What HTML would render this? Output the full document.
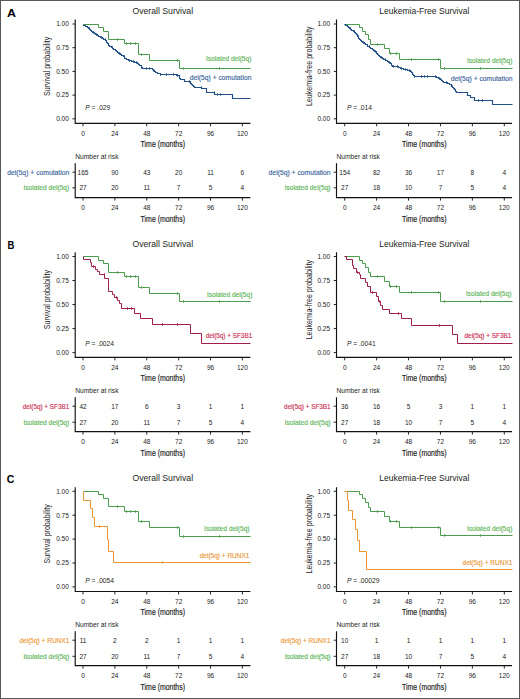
<!DOCTYPE html>
<html><head><meta charset="utf-8"><title>Kaplan-Meier survival by del(5q) comutation</title>
<style>html,body{margin:0;padding:0;background:#fff;}svg{display:block;}</style></head>
<body>
<svg width="520" height="699" viewBox="0 0 520 699" font-family='"Liberation Sans", sans-serif'>
<rect x="0" y="0" width="520" height="699" fill="#fff"/>
<text x="6.90" y="16.90" font-size="11.4" fill="#000" textLength="9.0" lengthAdjust="spacingAndGlyphs" font-weight="bold">A</text>
<text x="7.60" y="248.80" font-size="11.4" fill="#000" textLength="6.9" lengthAdjust="spacingAndGlyphs" font-weight="bold">B</text>
<text x="6.80" y="483.00" font-size="11.4" fill="#000" textLength="7.6" lengthAdjust="spacingAndGlyphs" font-weight="bold">C</text>
<text x="162.80" y="14.20" font-size="9.3" fill="#231f20" text-anchor="middle" textLength="60.6" lengthAdjust="spacingAndGlyphs">Overall Survival</text>
<text transform="translate(50.20,66.30) rotate(-90)" font-size="9.2" fill="#222" text-anchor="middle" textLength="59.3" lengthAdjust="spacingAndGlyphs">Survival probability</text>
<line x1="72.40" y1="118.80" x2="75.20" y2="118.80" stroke="#111" stroke-width="0.9"/>
<text x="68.80" y="121.15" font-size="6.5" fill="#222" text-anchor="end">0.00</text>
<line x1="72.40" y1="95.10" x2="75.20" y2="95.10" stroke="#111" stroke-width="0.9"/>
<text x="68.80" y="97.45" font-size="6.5" fill="#222" text-anchor="end">0.25</text>
<line x1="72.40" y1="71.40" x2="75.20" y2="71.40" stroke="#111" stroke-width="0.9"/>
<text x="68.80" y="73.75" font-size="6.5" fill="#222" text-anchor="end">0.50</text>
<line x1="72.40" y1="47.70" x2="75.20" y2="47.70" stroke="#111" stroke-width="0.9"/>
<text x="68.80" y="50.05" font-size="6.5" fill="#222" text-anchor="end">0.75</text>
<line x1="72.40" y1="24.00" x2="75.20" y2="24.00" stroke="#111" stroke-width="0.9"/>
<text x="68.80" y="26.35" font-size="6.5" fill="#222" text-anchor="end">1.00</text>
<line x1="83.00" y1="123.30" x2="83.00" y2="126.30" stroke="#111" stroke-width="0.9"/>
<text x="83.00" y="135.60" font-size="6.5" fill="#222" text-anchor="middle">0</text>
<line x1="114.88" y1="123.30" x2="114.88" y2="126.30" stroke="#111" stroke-width="0.9"/>
<text x="114.88" y="135.60" font-size="6.5" fill="#222" text-anchor="middle">24</text>
<line x1="146.76" y1="123.30" x2="146.76" y2="126.30" stroke="#111" stroke-width="0.9"/>
<text x="146.76" y="135.60" font-size="6.5" fill="#222" text-anchor="middle">48</text>
<line x1="178.64" y1="123.30" x2="178.64" y2="126.30" stroke="#111" stroke-width="0.9"/>
<text x="178.64" y="135.60" font-size="6.5" fill="#222" text-anchor="middle">72</text>
<line x1="210.52" y1="123.30" x2="210.52" y2="126.30" stroke="#111" stroke-width="0.9"/>
<text x="210.52" y="135.60" font-size="6.5" fill="#222" text-anchor="middle">96</text>
<line x1="242.40" y1="123.30" x2="242.40" y2="126.30" stroke="#111" stroke-width="0.9"/>
<text x="242.40" y="135.60" font-size="6.5" fill="#222" text-anchor="middle">120</text>
<path d="M75.20 19.60V123.30H250.40" fill="none" stroke="#111" stroke-width="1.15"/>
<text x="162.80" y="147.00" font-size="8.6" fill="#222" text-anchor="middle" textLength="44.4" lengthAdjust="spacingAndGlyphs" stroke="#222" stroke-width="0.18">Time (months)</text>
<text x="85.20" y="109.80" font-size="6.7" fill="#231f20"><tspan font-style="italic">P</tspan> = .029</text>
<text x="424.25" y="14.20" font-size="9.3" fill="#231f20" text-anchor="middle" textLength="90.1" lengthAdjust="spacingAndGlyphs">Leukemia-Free Survival</text>
<text transform="translate(311.60,66.30) rotate(-90)" font-size="9.2" fill="#222" text-anchor="middle" textLength="79.5" lengthAdjust="spacingAndGlyphs">Leukemia-free probability</text>
<line x1="333.70" y1="118.80" x2="336.50" y2="118.80" stroke="#111" stroke-width="0.9"/>
<text x="330.10" y="121.15" font-size="6.5" fill="#222" text-anchor="end">0.00</text>
<line x1="333.70" y1="95.10" x2="336.50" y2="95.10" stroke="#111" stroke-width="0.9"/>
<text x="330.10" y="97.45" font-size="6.5" fill="#222" text-anchor="end">0.25</text>
<line x1="333.70" y1="71.40" x2="336.50" y2="71.40" stroke="#111" stroke-width="0.9"/>
<text x="330.10" y="73.75" font-size="6.5" fill="#222" text-anchor="end">0.50</text>
<line x1="333.70" y1="47.70" x2="336.50" y2="47.70" stroke="#111" stroke-width="0.9"/>
<text x="330.10" y="50.05" font-size="6.5" fill="#222" text-anchor="end">0.75</text>
<line x1="333.70" y1="24.00" x2="336.50" y2="24.00" stroke="#111" stroke-width="0.9"/>
<text x="330.10" y="26.35" font-size="6.5" fill="#222" text-anchor="end">1.00</text>
<line x1="344.70" y1="123.30" x2="344.70" y2="126.30" stroke="#111" stroke-width="0.9"/>
<text x="344.70" y="135.60" font-size="6.5" fill="#222" text-anchor="middle">0</text>
<line x1="376.62" y1="123.30" x2="376.62" y2="126.30" stroke="#111" stroke-width="0.9"/>
<text x="376.62" y="135.60" font-size="6.5" fill="#222" text-anchor="middle">24</text>
<line x1="408.54" y1="123.30" x2="408.54" y2="126.30" stroke="#111" stroke-width="0.9"/>
<text x="408.54" y="135.60" font-size="6.5" fill="#222" text-anchor="middle">48</text>
<line x1="440.46" y1="123.30" x2="440.46" y2="126.30" stroke="#111" stroke-width="0.9"/>
<text x="440.46" y="135.60" font-size="6.5" fill="#222" text-anchor="middle">72</text>
<line x1="472.38" y1="123.30" x2="472.38" y2="126.30" stroke="#111" stroke-width="0.9"/>
<text x="472.38" y="135.60" font-size="6.5" fill="#222" text-anchor="middle">96</text>
<line x1="504.30" y1="123.30" x2="504.30" y2="126.30" stroke="#111" stroke-width="0.9"/>
<text x="504.30" y="135.60" font-size="6.5" fill="#222" text-anchor="middle">120</text>
<path d="M336.50 19.60V123.30H512.00" fill="none" stroke="#111" stroke-width="1.15"/>
<text x="424.25" y="147.00" font-size="8.6" fill="#222" text-anchor="middle" textLength="44.4" lengthAdjust="spacingAndGlyphs" stroke="#222" stroke-width="0.18">Time (months)</text>
<text x="346.90" y="109.80" font-size="6.7" fill="#231f20"><tspan font-style="italic">P</tspan> = .014</text>
<path d="M83.50 24.50L98.50 24.50L98.50 27.50L103.50 27.50L103.50 31.50L108.50 31.50L108.50 39.50L124.50 39.50L124.50 43.50L138.50 43.50L138.50 54.50L149.50 54.50L149.50 60.50L179.50 60.50L179.50 68.50L250.50 68.50" fill="none" stroke="#4c9c4f" stroke-width="1.0" stroke-linejoin="miter" stroke-linecap="butt"/>
<line x1="117.50" y1="38.10" x2="117.50" y2="40.90" stroke="#4c9c4f" stroke-width="0.8"/>
<line x1="126.50" y1="42.10" x2="126.50" y2="44.90" stroke="#4c9c4f" stroke-width="0.8"/>
<line x1="130.50" y1="42.10" x2="130.50" y2="44.90" stroke="#4c9c4f" stroke-width="0.8"/>
<line x1="135.50" y1="42.10" x2="135.50" y2="44.90" stroke="#4c9c4f" stroke-width="0.8"/>
<line x1="141.50" y1="53.10" x2="141.50" y2="55.90" stroke="#4c9c4f" stroke-width="0.8"/>
<line x1="177.50" y1="59.10" x2="177.50" y2="61.90" stroke="#4c9c4f" stroke-width="0.8"/>
<line x1="183.50" y1="67.10" x2="183.50" y2="69.90" stroke="#4c9c4f" stroke-width="0.8"/>
<line x1="219.50" y1="67.10" x2="219.50" y2="69.90" stroke="#4c9c4f" stroke-width="0.8"/>
<path d="M344.50 24.50L359.50 24.50L359.50 27.50L362.50 27.50L362.50 31.50L365.50 31.50L365.50 34.50L368.50 34.50L368.50 39.50L370.50 39.50L370.50 44.50L384.50 44.50L384.50 48.50L389.50 48.50L389.50 53.50L399.50 53.50L399.50 59.50L440.50 59.50L440.50 68.50L512.50 68.50" fill="none" stroke="#4c9c4f" stroke-width="1.0" stroke-linejoin="miter" stroke-linecap="butt"/>
<line x1="377.50" y1="43.10" x2="377.50" y2="45.90" stroke="#4c9c4f" stroke-width="0.8"/>
<line x1="390.50" y1="52.10" x2="390.50" y2="54.90" stroke="#4c9c4f" stroke-width="0.8"/>
<line x1="396.50" y1="52.10" x2="396.50" y2="54.90" stroke="#4c9c4f" stroke-width="0.8"/>
<line x1="411.50" y1="58.10" x2="411.50" y2="60.90" stroke="#4c9c4f" stroke-width="0.8"/>
<line x1="438.50" y1="58.10" x2="438.50" y2="60.90" stroke="#4c9c4f" stroke-width="0.8"/>
<line x1="444.50" y1="67.10" x2="444.50" y2="69.90" stroke="#4c9c4f" stroke-width="0.8"/>
<line x1="480.50" y1="67.10" x2="480.50" y2="69.90" stroke="#4c9c4f" stroke-width="0.8"/>
<path d="M83.50 24.50L83.50 24.50L83.50 25.50L85.50 25.50L85.50 26.50L87.50 26.50L87.50 27.50L88.50 27.50L88.50 28.50L89.50 28.50L89.50 29.50L90.50 29.50L90.50 30.50L91.50 30.50L91.50 31.50L92.50 31.50L92.50 32.50L94.50 32.50L94.50 33.50L95.50 33.50L95.50 34.50L97.50 34.50L97.50 35.50L98.50 35.50L98.50 36.50L100.50 36.50L100.50 37.50L102.50 37.50L102.50 38.50L103.50 38.50L103.50 39.50L105.50 39.50L105.50 40.50L106.50 40.50L106.50 42.50L107.50 42.50L107.50 43.50L108.50 43.50L108.50 44.50L108.50 44.50L108.50 45.50L109.50 45.50L109.50 46.50L111.50 46.50L111.50 47.50L112.50 47.50L112.50 48.50L113.50 48.50L113.50 49.50L115.50 49.50L115.50 50.50L116.50 50.50L116.50 51.50L117.50 51.50L117.50 52.50L118.50 52.50L118.50 53.50L120.50 53.50L120.50 54.50L121.50 54.50L121.50 55.50L123.50 55.50L123.50 56.50L124.50 56.50L124.50 58.50L126.50 58.50L126.50 59.50L128.50 59.50L128.50 60.50L131.50 60.50L131.50 61.50L134.50 61.50L134.50 62.50L137.50 62.50L137.50 63.50L138.50 63.50L138.50 64.50L139.50 64.50L139.50 65.50L141.50 65.50L141.50 67.50L142.50 67.50L142.50 68.50L151.50 68.50L151.50 68.50L152.50 68.50L152.50 69.50L153.50 69.50L153.50 70.50L154.50 70.50L154.50 71.50L155.50 71.50L155.50 72.50L157.50 72.50L157.50 73.50L160.50 73.50L160.50 74.50L173.50 74.50L173.50 74.50L176.50 74.50L176.50 75.50L179.50 75.50L179.50 77.50L179.50 77.50L179.50 78.50L180.50 78.50L180.50 79.50L184.50 79.50L184.50 81.50L189.50 81.50L190.50 81.50L190.50 83.50L191.50 83.50L191.50 84.50L192.50 84.50L192.50 85.50L193.50 85.50L193.50 86.50L194.50 86.50L194.50 87.50L201.50 87.50L201.50 88.50L206.50 88.50L206.50 92.50L214.50 92.50L214.50 94.50L232.50 94.50L232.50 98.50L250.50 98.50" fill="none" stroke="#224f85" stroke-width="1.15" stroke-linejoin="miter" stroke-linecap="butt"/>
<line x1="89.50" y1="27.10" x2="89.50" y2="29.90" stroke="#224f85" stroke-width="0.8"/>
<line x1="93.50" y1="31.10" x2="93.50" y2="33.90" stroke="#224f85" stroke-width="0.8"/>
<line x1="96.50" y1="33.10" x2="96.50" y2="35.90" stroke="#224f85" stroke-width="0.8"/>
<line x1="101.50" y1="36.10" x2="101.50" y2="38.90" stroke="#224f85" stroke-width="0.8"/>
<line x1="105.50" y1="38.10" x2="105.50" y2="40.90" stroke="#224f85" stroke-width="0.8"/>
<line x1="112.50" y1="46.10" x2="112.50" y2="48.90" stroke="#224f85" stroke-width="0.8"/>
<line x1="119.50" y1="52.10" x2="119.50" y2="54.90" stroke="#224f85" stroke-width="0.8"/>
<line x1="124.50" y1="55.10" x2="124.50" y2="57.90" stroke="#224f85" stroke-width="0.8"/>
<line x1="129.50" y1="59.10" x2="129.50" y2="61.90" stroke="#224f85" stroke-width="0.8"/>
<line x1="133.50" y1="60.10" x2="133.50" y2="62.90" stroke="#224f85" stroke-width="0.8"/>
<line x1="136.50" y1="61.10" x2="136.50" y2="63.90" stroke="#224f85" stroke-width="0.8"/>
<line x1="141.50" y1="66.10" x2="141.50" y2="68.90" stroke="#224f85" stroke-width="0.8"/>
<line x1="146.50" y1="67.10" x2="146.50" y2="69.90" stroke="#224f85" stroke-width="0.8"/>
<line x1="149.50" y1="67.10" x2="149.50" y2="69.90" stroke="#224f85" stroke-width="0.8"/>
<line x1="153.50" y1="69.10" x2="153.50" y2="71.90" stroke="#224f85" stroke-width="0.8"/>
<line x1="160.50" y1="73.10" x2="160.50" y2="75.90" stroke="#224f85" stroke-width="0.8"/>
<line x1="166.50" y1="73.10" x2="166.50" y2="75.90" stroke="#224f85" stroke-width="0.8"/>
<line x1="173.50" y1="73.10" x2="173.50" y2="75.90" stroke="#224f85" stroke-width="0.8"/>
<line x1="177.50" y1="74.10" x2="177.50" y2="76.90" stroke="#224f85" stroke-width="0.8"/>
<line x1="189.50" y1="80.10" x2="189.50" y2="82.90" stroke="#224f85" stroke-width="0.8"/>
<line x1="201.50" y1="86.10" x2="201.50" y2="88.90" stroke="#224f85" stroke-width="0.8"/>
<line x1="214.50" y1="91.10" x2="214.50" y2="93.90" stroke="#224f85" stroke-width="0.8"/>
<line x1="217.50" y1="93.10" x2="217.50" y2="95.90" stroke="#224f85" stroke-width="0.8"/>
<line x1="220.50" y1="93.10" x2="220.50" y2="95.90" stroke="#224f85" stroke-width="0.8"/>
<path d="M344.50 24.50L345.50 24.50L345.50 25.50L347.50 25.50L347.50 26.50L348.50 26.50L348.50 27.50L349.50 27.50L349.50 28.50L350.50 28.50L350.50 29.50L351.50 29.50L351.50 30.50L353.50 30.50L353.50 31.50L354.50 31.50L354.50 32.50L355.50 32.50L355.50 33.50L356.50 33.50L356.50 34.50L357.50 34.50L357.50 36.50L358.50 36.50L358.50 37.50L358.50 37.50L358.50 38.50L359.50 38.50L359.50 39.50L360.50 39.50L360.50 40.50L361.50 40.50L361.50 41.50L362.50 41.50L362.50 42.50L364.50 42.50L364.50 43.50L365.50 43.50L365.50 44.50L367.50 44.50L367.50 46.50L369.50 46.50L369.50 47.50L370.50 47.50L370.50 48.50L372.50 48.50L372.50 49.50L373.50 49.50L373.50 50.50L374.50 50.50L374.50 51.50L376.50 51.50L376.50 53.50L377.50 53.50L377.50 54.50L378.50 54.50L378.50 55.50L379.50 55.50L379.50 56.50L380.50 56.50L380.50 57.50L382.50 57.50L382.50 58.50L383.50 58.50L383.50 59.50L385.50 59.50L385.50 60.50L387.50 60.50L387.50 61.50L388.50 61.50L388.50 62.50L390.50 62.50L390.50 63.50L391.50 63.50L391.50 65.50L392.50 65.50L392.50 66.50L398.50 66.50L398.50 67.50L400.50 67.50L400.50 68.50L403.50 68.50L403.50 69.50L407.50 69.50L407.50 70.50L410.50 70.50L410.50 71.50L411.50 71.50L411.50 72.50L412.50 72.50L412.50 74.50L413.50 74.50L413.50 75.50L414.50 75.50L414.50 76.50L434.50 76.50L436.50 76.50L436.50 77.50L438.50 77.50L438.50 78.50L440.50 78.50L440.50 79.50L441.50 79.50L441.50 80.50L442.50 80.50L442.50 81.50L443.50 81.50L443.50 82.50L447.50 82.50L447.50 83.50L449.50 83.50L449.50 84.50L451.50 84.50L451.50 86.50L452.50 86.50L452.50 87.50L453.50 87.50L453.50 88.50L454.50 88.50L454.50 89.50L455.50 89.50L455.50 90.50L455.50 90.50L455.50 91.50L456.50 91.50L456.50 92.50L467.50 92.50L467.50 95.50L470.50 95.50L470.50 97.50L474.50 97.50L474.50 100.50L492.50 100.50L492.50 104.50L512.50 104.50" fill="none" stroke="#224f85" stroke-width="1.15" stroke-linejoin="miter" stroke-linecap="butt"/>
<line x1="350.50" y1="27.10" x2="350.50" y2="29.90" stroke="#224f85" stroke-width="0.8"/>
<line x1="354.50" y1="30.10" x2="354.50" y2="32.90" stroke="#224f85" stroke-width="0.8"/>
<line x1="358.50" y1="35.10" x2="358.50" y2="37.90" stroke="#224f85" stroke-width="0.8"/>
<line x1="363.50" y1="41.10" x2="363.50" y2="43.90" stroke="#224f85" stroke-width="0.8"/>
<line x1="369.50" y1="45.10" x2="369.50" y2="47.90" stroke="#224f85" stroke-width="0.8"/>
<line x1="375.50" y1="50.10" x2="375.50" y2="52.90" stroke="#224f85" stroke-width="0.8"/>
<line x1="381.50" y1="56.10" x2="381.50" y2="58.90" stroke="#224f85" stroke-width="0.8"/>
<line x1="385.50" y1="58.10" x2="385.50" y2="60.90" stroke="#224f85" stroke-width="0.8"/>
<line x1="389.50" y1="61.10" x2="389.50" y2="63.90" stroke="#224f85" stroke-width="0.8"/>
<line x1="393.50" y1="65.10" x2="393.50" y2="67.90" stroke="#224f85" stroke-width="0.8"/>
<line x1="397.50" y1="65.10" x2="397.50" y2="67.90" stroke="#224f85" stroke-width="0.8"/>
<line x1="401.50" y1="67.10" x2="401.50" y2="69.90" stroke="#224f85" stroke-width="0.8"/>
<line x1="405.50" y1="68.10" x2="405.50" y2="70.90" stroke="#224f85" stroke-width="0.8"/>
<line x1="409.50" y1="69.10" x2="409.50" y2="71.90" stroke="#224f85" stroke-width="0.8"/>
<line x1="414.50" y1="75.10" x2="414.50" y2="77.90" stroke="#224f85" stroke-width="0.8"/>
<line x1="421.50" y1="75.10" x2="421.50" y2="77.90" stroke="#224f85" stroke-width="0.8"/>
<line x1="424.50" y1="75.10" x2="424.50" y2="77.90" stroke="#224f85" stroke-width="0.8"/>
<line x1="427.50" y1="75.10" x2="427.50" y2="77.90" stroke="#224f85" stroke-width="0.8"/>
<line x1="435.50" y1="75.10" x2="435.50" y2="77.90" stroke="#224f85" stroke-width="0.8"/>
<line x1="439.50" y1="77.10" x2="439.50" y2="79.90" stroke="#224f85" stroke-width="0.8"/>
<line x1="446.50" y1="81.10" x2="446.50" y2="83.90" stroke="#224f85" stroke-width="0.8"/>
<line x1="452.50" y1="85.10" x2="452.50" y2="87.90" stroke="#224f85" stroke-width="0.8"/>
<line x1="478.50" y1="99.10" x2="478.50" y2="101.90" stroke="#224f85" stroke-width="0.8"/>
<line x1="482.50" y1="99.10" x2="482.50" y2="101.90" stroke="#224f85" stroke-width="0.8"/>
<text x="251.40" y="61.40" font-size="6.5" fill="#62b65a" text-anchor="end" textLength="45.4" lengthAdjust="spacingAndGlyphs" stroke="#62b65a" stroke-width="0.15">Isolated del(5q)</text>
<text x="251.40" y="80.20" font-size="6.5" fill="#3f69a0" text-anchor="end" textLength="61.6" lengthAdjust="spacingAndGlyphs" stroke="#3f69a0" stroke-width="0.15">del(5q) + comutation</text>
<text x="512.40" y="63.40" font-size="6.5" fill="#62b65a" text-anchor="end" textLength="45.4" lengthAdjust="spacingAndGlyphs" stroke="#62b65a" stroke-width="0.15">Isolated del(5q)</text>
<text x="512.40" y="80.90" font-size="6.5" fill="#3f69a0" text-anchor="end" textLength="61.6" lengthAdjust="spacingAndGlyphs" stroke="#3f69a0" stroke-width="0.15">del(5q) + comutation</text>
<text x="75.20" y="158.60" font-size="6.5" fill="#231f20" textLength="43.3" lengthAdjust="spacingAndGlyphs">Number at risk</text>
<line x1="72.40" y1="172.20" x2="75.20" y2="172.20" stroke="#111" stroke-width="0.9"/>
<text x="69.30" y="174.55" font-size="6.5" fill="#3f69a0" text-anchor="end" textLength="62.0" lengthAdjust="spacingAndGlyphs" stroke="#3f69a0" stroke-width="0.15">del(5q) + comutation</text>
<text x="83.00" y="174.55" font-size="6.5" fill="#222" text-anchor="middle">165</text>
<text x="114.88" y="174.55" font-size="6.5" fill="#222" text-anchor="middle">90</text>
<text x="146.76" y="174.55" font-size="6.5" fill="#222" text-anchor="middle">43</text>
<text x="178.64" y="174.55" font-size="6.5" fill="#222" text-anchor="middle">20</text>
<text x="210.52" y="174.55" font-size="6.5" fill="#222" text-anchor="middle">11</text>
<text x="242.40" y="174.55" font-size="6.5" fill="#222" text-anchor="middle">6</text>
<line x1="72.40" y1="187.80" x2="75.20" y2="187.80" stroke="#111" stroke-width="0.9"/>
<text x="69.30" y="190.15" font-size="6.5" fill="#62b65a" text-anchor="end" textLength="45.9" lengthAdjust="spacingAndGlyphs" stroke="#62b65a" stroke-width="0.15">Isolated del(5q)</text>
<text x="83.00" y="190.15" font-size="6.5" fill="#222" text-anchor="middle">27</text>
<text x="114.88" y="190.15" font-size="6.5" fill="#222" text-anchor="middle">20</text>
<text x="146.76" y="190.15" font-size="6.5" fill="#222" text-anchor="middle">11</text>
<text x="178.64" y="190.15" font-size="6.5" fill="#222" text-anchor="middle">7</text>
<text x="210.52" y="190.15" font-size="6.5" fill="#222" text-anchor="middle">5</text>
<text x="242.40" y="190.15" font-size="6.5" fill="#222" text-anchor="middle">4</text>
<line x1="83.00" y1="197.60" x2="83.00" y2="200.60" stroke="#111" stroke-width="0.9"/>
<text x="83.00" y="209.70" font-size="6.5" fill="#222" text-anchor="middle">0</text>
<line x1="114.88" y1="197.60" x2="114.88" y2="200.60" stroke="#111" stroke-width="0.9"/>
<text x="114.88" y="209.70" font-size="6.5" fill="#222" text-anchor="middle">24</text>
<line x1="146.76" y1="197.60" x2="146.76" y2="200.60" stroke="#111" stroke-width="0.9"/>
<text x="146.76" y="209.70" font-size="6.5" fill="#222" text-anchor="middle">48</text>
<line x1="178.64" y1="197.60" x2="178.64" y2="200.60" stroke="#111" stroke-width="0.9"/>
<text x="178.64" y="209.70" font-size="6.5" fill="#222" text-anchor="middle">72</text>
<line x1="210.52" y1="197.60" x2="210.52" y2="200.60" stroke="#111" stroke-width="0.9"/>
<text x="210.52" y="209.70" font-size="6.5" fill="#222" text-anchor="middle">96</text>
<line x1="242.40" y1="197.60" x2="242.40" y2="200.60" stroke="#111" stroke-width="0.9"/>
<text x="242.40" y="209.70" font-size="6.5" fill="#222" text-anchor="middle">120</text>
<path d="M75.20 163.20V197.60H250.40" fill="none" stroke="#111" stroke-width="1.15"/>
<text x="162.80" y="221.80" font-size="8.6" fill="#222" text-anchor="middle" textLength="44.4" lengthAdjust="spacingAndGlyphs" stroke="#222" stroke-width="0.18">Time (months)</text>
<text x="336.50" y="158.60" font-size="6.5" fill="#231f20" textLength="43.3" lengthAdjust="spacingAndGlyphs">Number at risk</text>
<line x1="333.70" y1="172.20" x2="336.50" y2="172.20" stroke="#111" stroke-width="0.9"/>
<text x="330.60" y="174.55" font-size="6.5" fill="#3f69a0" text-anchor="end" textLength="62.0" lengthAdjust="spacingAndGlyphs" stroke="#3f69a0" stroke-width="0.15">del(5q) + comutation</text>
<text x="344.70" y="174.55" font-size="6.5" fill="#222" text-anchor="middle">154</text>
<text x="376.62" y="174.55" font-size="6.5" fill="#222" text-anchor="middle">82</text>
<text x="408.54" y="174.55" font-size="6.5" fill="#222" text-anchor="middle">36</text>
<text x="440.46" y="174.55" font-size="6.5" fill="#222" text-anchor="middle">17</text>
<text x="472.38" y="174.55" font-size="6.5" fill="#222" text-anchor="middle">8</text>
<text x="504.30" y="174.55" font-size="6.5" fill="#222" text-anchor="middle">4</text>
<line x1="333.70" y1="187.80" x2="336.50" y2="187.80" stroke="#111" stroke-width="0.9"/>
<text x="330.60" y="190.15" font-size="6.5" fill="#62b65a" text-anchor="end" textLength="45.9" lengthAdjust="spacingAndGlyphs" stroke="#62b65a" stroke-width="0.15">Isolated del(5q)</text>
<text x="344.70" y="190.15" font-size="6.5" fill="#222" text-anchor="middle">27</text>
<text x="376.62" y="190.15" font-size="6.5" fill="#222" text-anchor="middle">18</text>
<text x="408.54" y="190.15" font-size="6.5" fill="#222" text-anchor="middle">10</text>
<text x="440.46" y="190.15" font-size="6.5" fill="#222" text-anchor="middle">7</text>
<text x="472.38" y="190.15" font-size="6.5" fill="#222" text-anchor="middle">5</text>
<text x="504.30" y="190.15" font-size="6.5" fill="#222" text-anchor="middle">4</text>
<line x1="344.70" y1="197.60" x2="344.70" y2="200.60" stroke="#111" stroke-width="0.9"/>
<text x="344.70" y="209.70" font-size="6.5" fill="#222" text-anchor="middle">0</text>
<line x1="376.62" y1="197.60" x2="376.62" y2="200.60" stroke="#111" stroke-width="0.9"/>
<text x="376.62" y="209.70" font-size="6.5" fill="#222" text-anchor="middle">24</text>
<line x1="408.54" y1="197.60" x2="408.54" y2="200.60" stroke="#111" stroke-width="0.9"/>
<text x="408.54" y="209.70" font-size="6.5" fill="#222" text-anchor="middle">48</text>
<line x1="440.46" y1="197.60" x2="440.46" y2="200.60" stroke="#111" stroke-width="0.9"/>
<text x="440.46" y="209.70" font-size="6.5" fill="#222" text-anchor="middle">72</text>
<line x1="472.38" y1="197.60" x2="472.38" y2="200.60" stroke="#111" stroke-width="0.9"/>
<text x="472.38" y="209.70" font-size="6.5" fill="#222" text-anchor="middle">96</text>
<line x1="504.30" y1="197.60" x2="504.30" y2="200.60" stroke="#111" stroke-width="0.9"/>
<text x="504.30" y="209.70" font-size="6.5" fill="#222" text-anchor="middle">120</text>
<path d="M336.50 163.20V197.60H512.00" fill="none" stroke="#111" stroke-width="1.15"/>
<text x="424.25" y="221.80" font-size="8.6" fill="#222" text-anchor="middle" textLength="44.4" lengthAdjust="spacingAndGlyphs" stroke="#222" stroke-width="0.18">Time (months)</text>
<text x="162.80" y="246.70" font-size="9.3" fill="#231f20" text-anchor="middle" textLength="60.6" lengthAdjust="spacingAndGlyphs">Overall Survival</text>
<text transform="translate(50.20,299.60) rotate(-90)" font-size="9.2" fill="#222" text-anchor="middle" textLength="59.3" lengthAdjust="spacingAndGlyphs">Survival probability</text>
<line x1="72.40" y1="352.60" x2="75.20" y2="352.60" stroke="#111" stroke-width="0.9"/>
<text x="68.80" y="354.95" font-size="6.5" fill="#222" text-anchor="end">0.00</text>
<line x1="72.40" y1="328.58" x2="75.20" y2="328.58" stroke="#111" stroke-width="0.9"/>
<text x="68.80" y="330.93" font-size="6.5" fill="#222" text-anchor="end">0.25</text>
<line x1="72.40" y1="304.55" x2="75.20" y2="304.55" stroke="#111" stroke-width="0.9"/>
<text x="68.80" y="306.90" font-size="6.5" fill="#222" text-anchor="end">0.50</text>
<line x1="72.40" y1="280.52" x2="75.20" y2="280.52" stroke="#111" stroke-width="0.9"/>
<text x="68.80" y="282.88" font-size="6.5" fill="#222" text-anchor="end">0.75</text>
<line x1="72.40" y1="256.50" x2="75.20" y2="256.50" stroke="#111" stroke-width="0.9"/>
<text x="68.80" y="258.85" font-size="6.5" fill="#222" text-anchor="end">1.00</text>
<line x1="83.00" y1="357.30" x2="83.00" y2="360.30" stroke="#111" stroke-width="0.9"/>
<text x="83.00" y="369.60" font-size="6.5" fill="#222" text-anchor="middle">0</text>
<line x1="114.88" y1="357.30" x2="114.88" y2="360.30" stroke="#111" stroke-width="0.9"/>
<text x="114.88" y="369.60" font-size="6.5" fill="#222" text-anchor="middle">24</text>
<line x1="146.76" y1="357.30" x2="146.76" y2="360.30" stroke="#111" stroke-width="0.9"/>
<text x="146.76" y="369.60" font-size="6.5" fill="#222" text-anchor="middle">48</text>
<line x1="178.64" y1="357.30" x2="178.64" y2="360.30" stroke="#111" stroke-width="0.9"/>
<text x="178.64" y="369.60" font-size="6.5" fill="#222" text-anchor="middle">72</text>
<line x1="210.52" y1="357.30" x2="210.52" y2="360.30" stroke="#111" stroke-width="0.9"/>
<text x="210.52" y="369.60" font-size="6.5" fill="#222" text-anchor="middle">96</text>
<line x1="242.40" y1="357.30" x2="242.40" y2="360.30" stroke="#111" stroke-width="0.9"/>
<text x="242.40" y="369.60" font-size="6.5" fill="#222" text-anchor="middle">120</text>
<path d="M75.20 252.30V357.30H250.40" fill="none" stroke="#111" stroke-width="1.15"/>
<text x="162.80" y="381.00" font-size="8.6" fill="#222" text-anchor="middle" textLength="44.4" lengthAdjust="spacingAndGlyphs" stroke="#222" stroke-width="0.18">Time (months)</text>
<text x="85.20" y="345.90" font-size="6.7" fill="#231f20"><tspan font-style="italic">P</tspan> = .0024</text>
<text x="424.25" y="246.70" font-size="9.3" fill="#231f20" text-anchor="middle" textLength="90.1" lengthAdjust="spacingAndGlyphs">Leukemia-Free Survival</text>
<text transform="translate(311.60,299.60) rotate(-90)" font-size="9.2" fill="#222" text-anchor="middle" textLength="79.5" lengthAdjust="spacingAndGlyphs">Leukemia-free probability</text>
<line x1="333.70" y1="352.60" x2="336.50" y2="352.60" stroke="#111" stroke-width="0.9"/>
<text x="330.10" y="354.95" font-size="6.5" fill="#222" text-anchor="end">0.00</text>
<line x1="333.70" y1="328.58" x2="336.50" y2="328.58" stroke="#111" stroke-width="0.9"/>
<text x="330.10" y="330.93" font-size="6.5" fill="#222" text-anchor="end">0.25</text>
<line x1="333.70" y1="304.55" x2="336.50" y2="304.55" stroke="#111" stroke-width="0.9"/>
<text x="330.10" y="306.90" font-size="6.5" fill="#222" text-anchor="end">0.50</text>
<line x1="333.70" y1="280.52" x2="336.50" y2="280.52" stroke="#111" stroke-width="0.9"/>
<text x="330.10" y="282.88" font-size="6.5" fill="#222" text-anchor="end">0.75</text>
<line x1="333.70" y1="256.50" x2="336.50" y2="256.50" stroke="#111" stroke-width="0.9"/>
<text x="330.10" y="258.85" font-size="6.5" fill="#222" text-anchor="end">1.00</text>
<line x1="344.70" y1="357.30" x2="344.70" y2="360.30" stroke="#111" stroke-width="0.9"/>
<text x="344.70" y="369.60" font-size="6.5" fill="#222" text-anchor="middle">0</text>
<line x1="376.62" y1="357.30" x2="376.62" y2="360.30" stroke="#111" stroke-width="0.9"/>
<text x="376.62" y="369.60" font-size="6.5" fill="#222" text-anchor="middle">24</text>
<line x1="408.54" y1="357.30" x2="408.54" y2="360.30" stroke="#111" stroke-width="0.9"/>
<text x="408.54" y="369.60" font-size="6.5" fill="#222" text-anchor="middle">48</text>
<line x1="440.46" y1="357.30" x2="440.46" y2="360.30" stroke="#111" stroke-width="0.9"/>
<text x="440.46" y="369.60" font-size="6.5" fill="#222" text-anchor="middle">72</text>
<line x1="472.38" y1="357.30" x2="472.38" y2="360.30" stroke="#111" stroke-width="0.9"/>
<text x="472.38" y="369.60" font-size="6.5" fill="#222" text-anchor="middle">96</text>
<line x1="504.30" y1="357.30" x2="504.30" y2="360.30" stroke="#111" stroke-width="0.9"/>
<text x="504.30" y="369.60" font-size="6.5" fill="#222" text-anchor="middle">120</text>
<path d="M336.50 252.30V357.30H512.00" fill="none" stroke="#111" stroke-width="1.15"/>
<text x="424.25" y="381.00" font-size="8.6" fill="#222" text-anchor="middle" textLength="44.4" lengthAdjust="spacingAndGlyphs" stroke="#222" stroke-width="0.18">Time (months)</text>
<text x="346.90" y="345.90" font-size="6.7" fill="#231f20"><tspan font-style="italic">P</tspan> = .0041</text>
<path d="M83.50 256.50L98.50 256.50L98.50 260.50L103.50 260.50L103.50 263.50L108.50 263.50L108.50 272.50L124.50 272.50L124.50 276.50L138.50 276.50L138.50 287.50L149.50 287.50L149.50 293.50L179.50 293.50L179.50 301.50L250.50 301.50" fill="none" stroke="#4c9c4f" stroke-width="1.0" stroke-linejoin="miter" stroke-linecap="butt"/>
<line x1="117.50" y1="271.10" x2="117.50" y2="273.90" stroke="#4c9c4f" stroke-width="0.8"/>
<line x1="126.50" y1="275.10" x2="126.50" y2="277.90" stroke="#4c9c4f" stroke-width="0.8"/>
<line x1="130.50" y1="275.10" x2="130.50" y2="277.90" stroke="#4c9c4f" stroke-width="0.8"/>
<line x1="135.50" y1="275.10" x2="135.50" y2="277.90" stroke="#4c9c4f" stroke-width="0.8"/>
<line x1="141.50" y1="286.10" x2="141.50" y2="288.90" stroke="#4c9c4f" stroke-width="0.8"/>
<line x1="177.50" y1="292.10" x2="177.50" y2="294.90" stroke="#4c9c4f" stroke-width="0.8"/>
<line x1="183.50" y1="300.10" x2="183.50" y2="302.90" stroke="#4c9c4f" stroke-width="0.8"/>
<line x1="219.50" y1="300.10" x2="219.50" y2="302.90" stroke="#4c9c4f" stroke-width="0.8"/>
<path d="M344.50 256.50L359.50 256.50L359.50 260.50L362.50 260.50L362.50 263.50L365.50 263.50L365.50 267.50L368.50 267.50L368.50 272.50L370.50 272.50L370.50 276.50L384.50 276.50L384.50 281.50L389.50 281.50L389.50 286.50L399.50 286.50L399.50 292.50L440.50 292.50L440.50 301.50L512.50 301.50" fill="none" stroke="#4c9c4f" stroke-width="1.0" stroke-linejoin="miter" stroke-linecap="butt"/>
<line x1="377.50" y1="275.10" x2="377.50" y2="277.90" stroke="#4c9c4f" stroke-width="0.8"/>
<line x1="390.50" y1="285.10" x2="390.50" y2="287.90" stroke="#4c9c4f" stroke-width="0.8"/>
<line x1="396.50" y1="285.10" x2="396.50" y2="287.90" stroke="#4c9c4f" stroke-width="0.8"/>
<line x1="411.50" y1="291.10" x2="411.50" y2="293.90" stroke="#4c9c4f" stroke-width="0.8"/>
<line x1="438.50" y1="291.10" x2="438.50" y2="293.90" stroke="#4c9c4f" stroke-width="0.8"/>
<line x1="444.50" y1="300.10" x2="444.50" y2="302.90" stroke="#4c9c4f" stroke-width="0.8"/>
<line x1="480.50" y1="300.10" x2="480.50" y2="302.90" stroke="#4c9c4f" stroke-width="0.8"/>
<path d="M83.50 256.50L83.50 256.50L83.50 259.50L90.50 259.50L90.50 262.50L91.50 262.50L91.50 266.50L95.50 266.50L95.50 269.50L97.50 269.50L97.50 271.50L99.50 271.50L99.50 274.50L104.50 274.50L104.50 278.50L108.50 278.50L108.50 291.50L112.50 291.50L112.50 294.50L114.50 294.50L114.50 297.50L117.50 297.50L117.50 300.50L119.50 300.50L119.50 303.50L121.50 303.50L121.50 308.50L134.50 308.50L134.50 313.50L140.50 313.50L140.50 318.50L152.50 318.50L152.50 324.50L190.50 324.50L190.50 333.50L201.50 333.50L201.50 343.50L250.50 343.50" fill="none" stroke="#a01e4b" stroke-width="1.0" stroke-linejoin="miter" stroke-linecap="butt"/>
<line x1="93.50" y1="265.10" x2="93.50" y2="267.90" stroke="#a01e4b" stroke-width="0.8"/>
<line x1="104.50" y1="273.10" x2="104.50" y2="275.90" stroke="#a01e4b" stroke-width="0.8"/>
<line x1="116.50" y1="296.10" x2="116.50" y2="298.90" stroke="#a01e4b" stroke-width="0.8"/>
<line x1="127.50" y1="307.10" x2="127.50" y2="309.90" stroke="#a01e4b" stroke-width="0.8"/>
<line x1="131.50" y1="307.10" x2="131.50" y2="309.90" stroke="#a01e4b" stroke-width="0.8"/>
<line x1="162.50" y1="323.10" x2="162.50" y2="325.90" stroke="#a01e4b" stroke-width="0.8"/>
<line x1="177.50" y1="323.10" x2="177.50" y2="325.90" stroke="#a01e4b" stroke-width="0.8"/>
<path d="M344.50 256.50L346.50 256.50L346.50 259.50L352.50 259.50L352.50 265.50L353.50 265.50L353.50 268.50L356.50 268.50L356.50 272.50L359.50 272.50L359.50 274.50L360.50 274.50L360.50 278.50L365.50 278.50L365.50 282.50L367.50 282.50L367.50 286.50L370.50 286.50L370.50 292.50L376.50 292.50L376.50 296.50L378.50 296.50L378.50 301.50L380.50 301.50L380.50 305.50L382.50 305.50L382.50 309.50L389.50 309.50L389.50 313.50L401.50 313.50L401.50 318.50L411.50 318.50L411.50 325.50L452.50 325.50L452.50 334.50L457.50 334.50L457.50 343.50L512.50 343.50" fill="none" stroke="#a01e4b" stroke-width="1.0" stroke-linejoin="miter" stroke-linecap="butt"/>
<line x1="357.50" y1="271.10" x2="357.50" y2="273.90" stroke="#a01e4b" stroke-width="0.8"/>
<line x1="372.50" y1="291.10" x2="372.50" y2="293.90" stroke="#a01e4b" stroke-width="0.8"/>
<line x1="379.50" y1="300.10" x2="379.50" y2="302.90" stroke="#a01e4b" stroke-width="0.8"/>
<line x1="398.50" y1="312.10" x2="398.50" y2="314.90" stroke="#a01e4b" stroke-width="0.8"/>
<line x1="439.50" y1="324.10" x2="439.50" y2="326.90" stroke="#a01e4b" stroke-width="0.8"/>
<text x="252.40" y="297.30" font-size="6.5" fill="#62b65a" text-anchor="end" textLength="45.4" lengthAdjust="spacingAndGlyphs" stroke="#62b65a" stroke-width="0.15">Isolated del(5q)</text>
<text x="252.20" y="338.40" font-size="6.5" fill="#cc3355" text-anchor="end" textLength="46.5" lengthAdjust="spacingAndGlyphs" stroke="#cc3355" stroke-width="0.15">del(5q) + SF3B1</text>
<text x="511.40" y="295.50" font-size="6.5" fill="#62b65a" text-anchor="end" textLength="45.4" lengthAdjust="spacingAndGlyphs" stroke="#62b65a" stroke-width="0.15">Isolated del(5q)</text>
<text x="511.40" y="338.30" font-size="6.5" fill="#cc3355" text-anchor="end" textLength="46.9" lengthAdjust="spacingAndGlyphs" stroke="#cc3355" stroke-width="0.15">del(5q) + SF3B1</text>
<text x="75.20" y="392.60" font-size="6.5" fill="#231f20" textLength="43.3" lengthAdjust="spacingAndGlyphs">Number at risk</text>
<line x1="72.40" y1="406.20" x2="75.20" y2="406.20" stroke="#111" stroke-width="0.9"/>
<text x="69.30" y="408.55" font-size="6.5" fill="#cc3355" text-anchor="end" textLength="46.5" lengthAdjust="spacingAndGlyphs" stroke="#cc3355" stroke-width="0.15">del(5q) + SF3B1</text>
<text x="83.00" y="408.55" font-size="6.5" fill="#222" text-anchor="middle">42</text>
<text x="114.88" y="408.55" font-size="6.5" fill="#222" text-anchor="middle">17</text>
<text x="146.76" y="408.55" font-size="6.5" fill="#222" text-anchor="middle">6</text>
<text x="178.64" y="408.55" font-size="6.5" fill="#222" text-anchor="middle">3</text>
<text x="210.52" y="408.55" font-size="6.5" fill="#222" text-anchor="middle">1</text>
<text x="242.40" y="408.55" font-size="6.5" fill="#222" text-anchor="middle">1</text>
<line x1="72.40" y1="422.20" x2="75.20" y2="422.20" stroke="#111" stroke-width="0.9"/>
<text x="69.30" y="424.55" font-size="6.5" fill="#62b65a" text-anchor="end" textLength="45.9" lengthAdjust="spacingAndGlyphs" stroke="#62b65a" stroke-width="0.15">Isolated del(5q)</text>
<text x="83.00" y="424.55" font-size="6.5" fill="#222" text-anchor="middle">27</text>
<text x="114.88" y="424.55" font-size="6.5" fill="#222" text-anchor="middle">20</text>
<text x="146.76" y="424.55" font-size="6.5" fill="#222" text-anchor="middle">11</text>
<text x="178.64" y="424.55" font-size="6.5" fill="#222" text-anchor="middle">7</text>
<text x="210.52" y="424.55" font-size="6.5" fill="#222" text-anchor="middle">5</text>
<text x="242.40" y="424.55" font-size="6.5" fill="#222" text-anchor="middle">4</text>
<line x1="83.00" y1="431.60" x2="83.00" y2="434.60" stroke="#111" stroke-width="0.9"/>
<text x="83.00" y="443.70" font-size="6.5" fill="#222" text-anchor="middle">0</text>
<line x1="114.88" y1="431.60" x2="114.88" y2="434.60" stroke="#111" stroke-width="0.9"/>
<text x="114.88" y="443.70" font-size="6.5" fill="#222" text-anchor="middle">24</text>
<line x1="146.76" y1="431.60" x2="146.76" y2="434.60" stroke="#111" stroke-width="0.9"/>
<text x="146.76" y="443.70" font-size="6.5" fill="#222" text-anchor="middle">48</text>
<line x1="178.64" y1="431.60" x2="178.64" y2="434.60" stroke="#111" stroke-width="0.9"/>
<text x="178.64" y="443.70" font-size="6.5" fill="#222" text-anchor="middle">72</text>
<line x1="210.52" y1="431.60" x2="210.52" y2="434.60" stroke="#111" stroke-width="0.9"/>
<text x="210.52" y="443.70" font-size="6.5" fill="#222" text-anchor="middle">96</text>
<line x1="242.40" y1="431.60" x2="242.40" y2="434.60" stroke="#111" stroke-width="0.9"/>
<text x="242.40" y="443.70" font-size="6.5" fill="#222" text-anchor="middle">120</text>
<path d="M75.20 397.20V431.60H250.40" fill="none" stroke="#111" stroke-width="1.15"/>
<text x="162.80" y="455.80" font-size="8.6" fill="#222" text-anchor="middle" textLength="44.4" lengthAdjust="spacingAndGlyphs" stroke="#222" stroke-width="0.18">Time (months)</text>
<text x="336.50" y="392.60" font-size="6.5" fill="#231f20" textLength="43.3" lengthAdjust="spacingAndGlyphs">Number at risk</text>
<line x1="333.70" y1="406.20" x2="336.50" y2="406.20" stroke="#111" stroke-width="0.9"/>
<text x="330.60" y="408.55" font-size="6.5" fill="#cc3355" text-anchor="end" textLength="46.5" lengthAdjust="spacingAndGlyphs" stroke="#cc3355" stroke-width="0.15">del(5q) + SF3B1</text>
<text x="344.70" y="408.55" font-size="6.5" fill="#222" text-anchor="middle">36</text>
<text x="376.62" y="408.55" font-size="6.5" fill="#222" text-anchor="middle">16</text>
<text x="408.54" y="408.55" font-size="6.5" fill="#222" text-anchor="middle">5</text>
<text x="440.46" y="408.55" font-size="6.5" fill="#222" text-anchor="middle">3</text>
<text x="472.38" y="408.55" font-size="6.5" fill="#222" text-anchor="middle">1</text>
<text x="504.30" y="408.55" font-size="6.5" fill="#222" text-anchor="middle">1</text>
<line x1="333.70" y1="422.20" x2="336.50" y2="422.20" stroke="#111" stroke-width="0.9"/>
<text x="330.60" y="424.55" font-size="6.5" fill="#62b65a" text-anchor="end" textLength="45.9" lengthAdjust="spacingAndGlyphs" stroke="#62b65a" stroke-width="0.15">Isolated del(5q)</text>
<text x="344.70" y="424.55" font-size="6.5" fill="#222" text-anchor="middle">27</text>
<text x="376.62" y="424.55" font-size="6.5" fill="#222" text-anchor="middle">18</text>
<text x="408.54" y="424.55" font-size="6.5" fill="#222" text-anchor="middle">10</text>
<text x="440.46" y="424.55" font-size="6.5" fill="#222" text-anchor="middle">7</text>
<text x="472.38" y="424.55" font-size="6.5" fill="#222" text-anchor="middle">5</text>
<text x="504.30" y="424.55" font-size="6.5" fill="#222" text-anchor="middle">4</text>
<line x1="344.70" y1="431.60" x2="344.70" y2="434.60" stroke="#111" stroke-width="0.9"/>
<text x="344.70" y="443.70" font-size="6.5" fill="#222" text-anchor="middle">0</text>
<line x1="376.62" y1="431.60" x2="376.62" y2="434.60" stroke="#111" stroke-width="0.9"/>
<text x="376.62" y="443.70" font-size="6.5" fill="#222" text-anchor="middle">24</text>
<line x1="408.54" y1="431.60" x2="408.54" y2="434.60" stroke="#111" stroke-width="0.9"/>
<text x="408.54" y="443.70" font-size="6.5" fill="#222" text-anchor="middle">48</text>
<line x1="440.46" y1="431.60" x2="440.46" y2="434.60" stroke="#111" stroke-width="0.9"/>
<text x="440.46" y="443.70" font-size="6.5" fill="#222" text-anchor="middle">72</text>
<line x1="472.38" y1="431.60" x2="472.38" y2="434.60" stroke="#111" stroke-width="0.9"/>
<text x="472.38" y="443.70" font-size="6.5" fill="#222" text-anchor="middle">96</text>
<line x1="504.30" y1="431.60" x2="504.30" y2="434.60" stroke="#111" stroke-width="0.9"/>
<text x="504.30" y="443.70" font-size="6.5" fill="#222" text-anchor="middle">120</text>
<path d="M336.50 397.20V431.60H512.00" fill="none" stroke="#111" stroke-width="1.15"/>
<text x="424.25" y="455.80" font-size="8.6" fill="#222" text-anchor="middle" textLength="44.4" lengthAdjust="spacingAndGlyphs" stroke="#222" stroke-width="0.18">Time (months)</text>
<text x="162.80" y="481.10" font-size="9.3" fill="#231f20" text-anchor="middle" textLength="60.6" lengthAdjust="spacingAndGlyphs">Overall Survival</text>
<text transform="translate(50.20,533.80) rotate(-90)" font-size="9.2" fill="#222" text-anchor="middle" textLength="59.3" lengthAdjust="spacingAndGlyphs">Survival probability</text>
<line x1="72.40" y1="586.90" x2="75.20" y2="586.90" stroke="#111" stroke-width="0.9"/>
<text x="68.80" y="589.25" font-size="6.5" fill="#222" text-anchor="end">0.00</text>
<line x1="72.40" y1="563.00" x2="75.20" y2="563.00" stroke="#111" stroke-width="0.9"/>
<text x="68.80" y="565.35" font-size="6.5" fill="#222" text-anchor="end">0.25</text>
<line x1="72.40" y1="539.10" x2="75.20" y2="539.10" stroke="#111" stroke-width="0.9"/>
<text x="68.80" y="541.45" font-size="6.5" fill="#222" text-anchor="end">0.50</text>
<line x1="72.40" y1="515.20" x2="75.20" y2="515.20" stroke="#111" stroke-width="0.9"/>
<text x="68.80" y="517.55" font-size="6.5" fill="#222" text-anchor="end">0.75</text>
<line x1="72.40" y1="491.30" x2="75.20" y2="491.30" stroke="#111" stroke-width="0.9"/>
<text x="68.80" y="493.65" font-size="6.5" fill="#222" text-anchor="end">1.00</text>
<line x1="83.00" y1="591.50" x2="83.00" y2="594.50" stroke="#111" stroke-width="0.9"/>
<text x="83.00" y="603.80" font-size="6.5" fill="#222" text-anchor="middle">0</text>
<line x1="114.88" y1="591.50" x2="114.88" y2="594.50" stroke="#111" stroke-width="0.9"/>
<text x="114.88" y="603.80" font-size="6.5" fill="#222" text-anchor="middle">24</text>
<line x1="146.76" y1="591.50" x2="146.76" y2="594.50" stroke="#111" stroke-width="0.9"/>
<text x="146.76" y="603.80" font-size="6.5" fill="#222" text-anchor="middle">48</text>
<line x1="178.64" y1="591.50" x2="178.64" y2="594.50" stroke="#111" stroke-width="0.9"/>
<text x="178.64" y="603.80" font-size="6.5" fill="#222" text-anchor="middle">72</text>
<line x1="210.52" y1="591.50" x2="210.52" y2="594.50" stroke="#111" stroke-width="0.9"/>
<text x="210.52" y="603.80" font-size="6.5" fill="#222" text-anchor="middle">96</text>
<line x1="242.40" y1="591.50" x2="242.40" y2="594.50" stroke="#111" stroke-width="0.9"/>
<text x="242.40" y="603.80" font-size="6.5" fill="#222" text-anchor="middle">120</text>
<path d="M75.20 487.20V591.50H250.40" fill="none" stroke="#111" stroke-width="1.15"/>
<text x="162.80" y="615.20" font-size="8.6" fill="#222" text-anchor="middle" textLength="44.4" lengthAdjust="spacingAndGlyphs" stroke="#222" stroke-width="0.18">Time (months)</text>
<text x="85.20" y="583.20" font-size="6.7" fill="#231f20"><tspan font-style="italic">P</tspan> = .0054</text>
<text x="424.25" y="481.10" font-size="9.3" fill="#231f20" text-anchor="middle" textLength="90.1" lengthAdjust="spacingAndGlyphs">Leukemia-Free Survival</text>
<text transform="translate(311.60,533.80) rotate(-90)" font-size="9.2" fill="#222" text-anchor="middle" textLength="79.5" lengthAdjust="spacingAndGlyphs">Leukemia-free probability</text>
<line x1="333.70" y1="586.90" x2="336.50" y2="586.90" stroke="#111" stroke-width="0.9"/>
<text x="330.10" y="589.25" font-size="6.5" fill="#222" text-anchor="end">0.00</text>
<line x1="333.70" y1="563.00" x2="336.50" y2="563.00" stroke="#111" stroke-width="0.9"/>
<text x="330.10" y="565.35" font-size="6.5" fill="#222" text-anchor="end">0.25</text>
<line x1="333.70" y1="539.10" x2="336.50" y2="539.10" stroke="#111" stroke-width="0.9"/>
<text x="330.10" y="541.45" font-size="6.5" fill="#222" text-anchor="end">0.50</text>
<line x1="333.70" y1="515.20" x2="336.50" y2="515.20" stroke="#111" stroke-width="0.9"/>
<text x="330.10" y="517.55" font-size="6.5" fill="#222" text-anchor="end">0.75</text>
<line x1="333.70" y1="491.30" x2="336.50" y2="491.30" stroke="#111" stroke-width="0.9"/>
<text x="330.10" y="493.65" font-size="6.5" fill="#222" text-anchor="end">1.00</text>
<line x1="344.70" y1="591.50" x2="344.70" y2="594.50" stroke="#111" stroke-width="0.9"/>
<text x="344.70" y="603.80" font-size="6.5" fill="#222" text-anchor="middle">0</text>
<line x1="376.62" y1="591.50" x2="376.62" y2="594.50" stroke="#111" stroke-width="0.9"/>
<text x="376.62" y="603.80" font-size="6.5" fill="#222" text-anchor="middle">24</text>
<line x1="408.54" y1="591.50" x2="408.54" y2="594.50" stroke="#111" stroke-width="0.9"/>
<text x="408.54" y="603.80" font-size="6.5" fill="#222" text-anchor="middle">48</text>
<line x1="440.46" y1="591.50" x2="440.46" y2="594.50" stroke="#111" stroke-width="0.9"/>
<text x="440.46" y="603.80" font-size="6.5" fill="#222" text-anchor="middle">72</text>
<line x1="472.38" y1="591.50" x2="472.38" y2="594.50" stroke="#111" stroke-width="0.9"/>
<text x="472.38" y="603.80" font-size="6.5" fill="#222" text-anchor="middle">96</text>
<line x1="504.30" y1="591.50" x2="504.30" y2="594.50" stroke="#111" stroke-width="0.9"/>
<text x="504.30" y="603.80" font-size="6.5" fill="#222" text-anchor="middle">120</text>
<path d="M336.50 487.20V591.50H512.00" fill="none" stroke="#111" stroke-width="1.15"/>
<text x="424.25" y="615.20" font-size="8.6" fill="#222" text-anchor="middle" textLength="44.4" lengthAdjust="spacingAndGlyphs" stroke="#222" stroke-width="0.18">Time (months)</text>
<text x="346.90" y="583.20" font-size="6.7" fill="#231f20"><tspan font-style="italic">P</tspan> = .00029</text>
<path d="M83.50 491.50L98.50 491.50L98.50 494.50L103.50 494.50L103.50 498.50L108.50 498.50L108.50 506.50L124.50 506.50L124.50 511.50L138.50 511.50L138.50 521.50L149.50 521.50L149.50 527.50L179.50 527.50L179.50 536.50L250.50 536.50" fill="none" stroke="#4c9c4f" stroke-width="1.0" stroke-linejoin="miter" stroke-linecap="butt"/>
<line x1="117.50" y1="505.10" x2="117.50" y2="507.90" stroke="#4c9c4f" stroke-width="0.8"/>
<line x1="126.50" y1="510.10" x2="126.50" y2="512.90" stroke="#4c9c4f" stroke-width="0.8"/>
<line x1="130.50" y1="510.10" x2="130.50" y2="512.90" stroke="#4c9c4f" stroke-width="0.8"/>
<line x1="135.50" y1="510.10" x2="135.50" y2="512.90" stroke="#4c9c4f" stroke-width="0.8"/>
<line x1="141.50" y1="520.10" x2="141.50" y2="522.90" stroke="#4c9c4f" stroke-width="0.8"/>
<line x1="177.50" y1="526.10" x2="177.50" y2="528.90" stroke="#4c9c4f" stroke-width="0.8"/>
<line x1="183.50" y1="535.10" x2="183.50" y2="537.90" stroke="#4c9c4f" stroke-width="0.8"/>
<line x1="219.50" y1="535.10" x2="219.50" y2="537.90" stroke="#4c9c4f" stroke-width="0.8"/>
<path d="M344.50 491.50L359.50 491.50L359.50 494.50L362.50 494.50L362.50 498.50L365.50 498.50L365.50 502.50L368.50 502.50L368.50 507.50L370.50 507.50L370.50 511.50L384.50 511.50L384.50 516.50L389.50 516.50L389.50 521.50L399.50 521.50L399.50 527.50L440.50 527.50L440.50 535.50L512.50 535.50" fill="none" stroke="#4c9c4f" stroke-width="1.0" stroke-linejoin="miter" stroke-linecap="butt"/>
<line x1="377.50" y1="510.10" x2="377.50" y2="512.90" stroke="#4c9c4f" stroke-width="0.8"/>
<line x1="390.50" y1="520.10" x2="390.50" y2="522.90" stroke="#4c9c4f" stroke-width="0.8"/>
<line x1="396.50" y1="520.10" x2="396.50" y2="522.90" stroke="#4c9c4f" stroke-width="0.8"/>
<line x1="411.50" y1="526.10" x2="411.50" y2="528.90" stroke="#4c9c4f" stroke-width="0.8"/>
<line x1="438.50" y1="526.10" x2="438.50" y2="528.90" stroke="#4c9c4f" stroke-width="0.8"/>
<line x1="444.50" y1="534.10" x2="444.50" y2="536.90" stroke="#4c9c4f" stroke-width="0.8"/>
<line x1="480.50" y1="534.10" x2="480.50" y2="536.90" stroke="#4c9c4f" stroke-width="0.8"/>
<path d="M83.50 491.50L83.50 491.50L83.50 500.50L90.50 500.50L90.50 508.50L92.50 508.50L92.50 517.50L94.50 517.50L94.50 526.50L107.50 526.50L107.50 539.50L108.50 539.50L108.50 551.50L113.50 551.50L113.50 562.50L250.50 562.50" fill="none" stroke="#ea952f" stroke-width="1.0" stroke-linejoin="miter" stroke-linecap="butt"/>
<line x1="99.50" y1="525.10" x2="99.50" y2="527.90" stroke="#ea952f" stroke-width="0.8"/>
<line x1="162.50" y1="561.10" x2="162.50" y2="563.90" stroke="#ea952f" stroke-width="0.8"/>
<path d="M344.50 491.50L347.50 491.50L347.50 500.50L348.50 500.50L348.50 510.50L352.50 510.50L352.50 519.50L355.50 519.50L355.50 529.50L357.50 529.50L357.50 540.50L359.50 540.50L359.50 551.50L366.50 551.50L366.50 569.50L512.50 569.50" fill="none" stroke="#ea952f" stroke-width="1.0" stroke-linejoin="miter" stroke-linecap="butt"/>
<text x="249.50" y="531.20" font-size="6.5" fill="#62b65a" text-anchor="end" textLength="45.4" lengthAdjust="spacingAndGlyphs" stroke="#62b65a" stroke-width="0.15">Isolated del(5q)</text>
<text x="249.50" y="558.20" font-size="6.5" fill="#ec9a3a" text-anchor="end" textLength="49.8" lengthAdjust="spacingAndGlyphs" stroke="#ec9a3a" stroke-width="0.15">del(5q) + RUNX1</text>
<text x="512.40" y="530.80" font-size="6.5" fill="#62b65a" text-anchor="end" textLength="45.4" lengthAdjust="spacingAndGlyphs" stroke="#62b65a" stroke-width="0.15">Isolated del(5q)</text>
<text x="512.40" y="565.40" font-size="6.5" fill="#ec9a3a" text-anchor="end" textLength="49.8" lengthAdjust="spacingAndGlyphs" stroke="#ec9a3a" stroke-width="0.15">del(5q) + RUNX1</text>
<text x="75.20" y="626.60" font-size="6.5" fill="#231f20" textLength="43.3" lengthAdjust="spacingAndGlyphs">Number at risk</text>
<line x1="72.40" y1="640.20" x2="75.20" y2="640.20" stroke="#111" stroke-width="0.9"/>
<text x="69.30" y="642.55" font-size="6.5" fill="#ec9a3a" text-anchor="end" textLength="49.8" lengthAdjust="spacingAndGlyphs" stroke="#ec9a3a" stroke-width="0.15">del(5q) + RUNX1</text>
<text x="83.00" y="642.55" font-size="6.5" fill="#222" text-anchor="middle">11</text>
<text x="114.88" y="642.55" font-size="6.5" fill="#222" text-anchor="middle">2</text>
<text x="146.76" y="642.55" font-size="6.5" fill="#222" text-anchor="middle">2</text>
<text x="178.64" y="642.55" font-size="6.5" fill="#222" text-anchor="middle">1</text>
<text x="210.52" y="642.55" font-size="6.5" fill="#222" text-anchor="middle">1</text>
<text x="242.40" y="642.55" font-size="6.5" fill="#222" text-anchor="middle">1</text>
<line x1="72.40" y1="656.30" x2="75.20" y2="656.30" stroke="#111" stroke-width="0.9"/>
<text x="69.30" y="658.65" font-size="6.5" fill="#62b65a" text-anchor="end" textLength="45.9" lengthAdjust="spacingAndGlyphs" stroke="#62b65a" stroke-width="0.15">Isolated del(5q)</text>
<text x="83.00" y="658.65" font-size="6.5" fill="#222" text-anchor="middle">27</text>
<text x="114.88" y="658.65" font-size="6.5" fill="#222" text-anchor="middle">20</text>
<text x="146.76" y="658.65" font-size="6.5" fill="#222" text-anchor="middle">11</text>
<text x="178.64" y="658.65" font-size="6.5" fill="#222" text-anchor="middle">7</text>
<text x="210.52" y="658.65" font-size="6.5" fill="#222" text-anchor="middle">5</text>
<text x="242.40" y="658.65" font-size="6.5" fill="#222" text-anchor="middle">4</text>
<line x1="83.00" y1="665.60" x2="83.00" y2="668.60" stroke="#111" stroke-width="0.9"/>
<text x="83.00" y="677.70" font-size="6.5" fill="#222" text-anchor="middle">0</text>
<line x1="114.88" y1="665.60" x2="114.88" y2="668.60" stroke="#111" stroke-width="0.9"/>
<text x="114.88" y="677.70" font-size="6.5" fill="#222" text-anchor="middle">24</text>
<line x1="146.76" y1="665.60" x2="146.76" y2="668.60" stroke="#111" stroke-width="0.9"/>
<text x="146.76" y="677.70" font-size="6.5" fill="#222" text-anchor="middle">48</text>
<line x1="178.64" y1="665.60" x2="178.64" y2="668.60" stroke="#111" stroke-width="0.9"/>
<text x="178.64" y="677.70" font-size="6.5" fill="#222" text-anchor="middle">72</text>
<line x1="210.52" y1="665.60" x2="210.52" y2="668.60" stroke="#111" stroke-width="0.9"/>
<text x="210.52" y="677.70" font-size="6.5" fill="#222" text-anchor="middle">96</text>
<line x1="242.40" y1="665.60" x2="242.40" y2="668.60" stroke="#111" stroke-width="0.9"/>
<text x="242.40" y="677.70" font-size="6.5" fill="#222" text-anchor="middle">120</text>
<path d="M75.20 631.20V665.60H250.40" fill="none" stroke="#111" stroke-width="1.15"/>
<text x="162.80" y="689.80" font-size="8.6" fill="#222" text-anchor="middle" textLength="44.4" lengthAdjust="spacingAndGlyphs" stroke="#222" stroke-width="0.18">Time (months)</text>
<text x="336.50" y="626.60" font-size="6.5" fill="#231f20" textLength="43.3" lengthAdjust="spacingAndGlyphs">Number at risk</text>
<line x1="333.70" y1="640.20" x2="336.50" y2="640.20" stroke="#111" stroke-width="0.9"/>
<text x="330.60" y="642.55" font-size="6.5" fill="#ec9a3a" text-anchor="end" textLength="49.8" lengthAdjust="spacingAndGlyphs" stroke="#ec9a3a" stroke-width="0.15">del(5q) + RUNX1</text>
<text x="344.70" y="642.55" font-size="6.5" fill="#222" text-anchor="middle">10</text>
<text x="376.62" y="642.55" font-size="6.5" fill="#222" text-anchor="middle">1</text>
<text x="408.54" y="642.55" font-size="6.5" fill="#222" text-anchor="middle">1</text>
<text x="440.46" y="642.55" font-size="6.5" fill="#222" text-anchor="middle">1</text>
<text x="472.38" y="642.55" font-size="6.5" fill="#222" text-anchor="middle">1</text>
<text x="504.30" y="642.55" font-size="6.5" fill="#222" text-anchor="middle">1</text>
<line x1="333.70" y1="656.30" x2="336.50" y2="656.30" stroke="#111" stroke-width="0.9"/>
<text x="330.60" y="658.65" font-size="6.5" fill="#62b65a" text-anchor="end" textLength="45.9" lengthAdjust="spacingAndGlyphs" stroke="#62b65a" stroke-width="0.15">Isolated del(5q)</text>
<text x="344.70" y="658.65" font-size="6.5" fill="#222" text-anchor="middle">27</text>
<text x="376.62" y="658.65" font-size="6.5" fill="#222" text-anchor="middle">18</text>
<text x="408.54" y="658.65" font-size="6.5" fill="#222" text-anchor="middle">10</text>
<text x="440.46" y="658.65" font-size="6.5" fill="#222" text-anchor="middle">7</text>
<text x="472.38" y="658.65" font-size="6.5" fill="#222" text-anchor="middle">5</text>
<text x="504.30" y="658.65" font-size="6.5" fill="#222" text-anchor="middle">4</text>
<line x1="344.70" y1="665.60" x2="344.70" y2="668.60" stroke="#111" stroke-width="0.9"/>
<text x="344.70" y="677.70" font-size="6.5" fill="#222" text-anchor="middle">0</text>
<line x1="376.62" y1="665.60" x2="376.62" y2="668.60" stroke="#111" stroke-width="0.9"/>
<text x="376.62" y="677.70" font-size="6.5" fill="#222" text-anchor="middle">24</text>
<line x1="408.54" y1="665.60" x2="408.54" y2="668.60" stroke="#111" stroke-width="0.9"/>
<text x="408.54" y="677.70" font-size="6.5" fill="#222" text-anchor="middle">48</text>
<line x1="440.46" y1="665.60" x2="440.46" y2="668.60" stroke="#111" stroke-width="0.9"/>
<text x="440.46" y="677.70" font-size="6.5" fill="#222" text-anchor="middle">72</text>
<line x1="472.38" y1="665.60" x2="472.38" y2="668.60" stroke="#111" stroke-width="0.9"/>
<text x="472.38" y="677.70" font-size="6.5" fill="#222" text-anchor="middle">96</text>
<line x1="504.30" y1="665.60" x2="504.30" y2="668.60" stroke="#111" stroke-width="0.9"/>
<text x="504.30" y="677.70" font-size="6.5" fill="#222" text-anchor="middle">120</text>
<path d="M336.50 631.20V665.60H512.00" fill="none" stroke="#111" stroke-width="1.15"/>
<text x="424.25" y="689.80" font-size="8.6" fill="#222" text-anchor="middle" textLength="44.4" lengthAdjust="spacingAndGlyphs" stroke="#222" stroke-width="0.18">Time (months)</text>
<rect x="0.5" y="0.5" width="519" height="698" fill="none" stroke="#585858" stroke-width="1"/>
</svg>
</body></html>
